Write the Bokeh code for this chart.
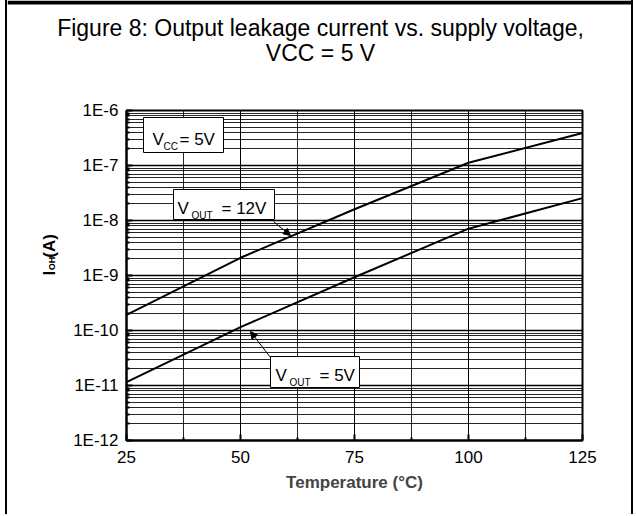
import math
from bokeh.plotting import figure
from bokeh.layouts import column, row
from bokeh.models import (Range1d, FixedTicker, CustomJSTickFormatter,
                          BoxAnnotation, Label, Arrow, NormalHead)
from bokeh.embed import file_html
from bokeh.resources import INLINE

# ---- data ----
temperature = [25, 50, 75, 100, 125]
i_oh_vout_12v = [1.93e-10, 2.1e-9, 1.6e-8, 1.12e-7, 3.9e-7]
i_oh_vout_5v = [1.15e-11, 1.15e-10, 9.3e-10, 7.1e-9, 2.55e-8]

x_ticks = [25, 50, 75, 100, 125]
x_minor_ticks = [37.5, 62.5, 87.5, 112.5]
y_decades = [-12, -11, -10, -9, -8, -7, -6]
y_ticks = [10.0 ** e for e in y_decades]
y_minor_ticks = [k * 10.0 ** e for e in y_decades[:-1] for k in range(2, 10)]

title_line1 = "Figure 8: Output leakage current vs. supply voltage,"
title_line2 = "VCC = 5 V"

FONT = "Liberation Sans"

# ---- layout (page pixels) ----
ORIGIN_X, ORIGIN_Y = 7, 0          # where the whole block starts
TOTAL_W = 624
TITLE_H = 90
MAIN_H = 424
YLAB_W = 57
MAIN_W = TOTAL_W - YLAB_W
FL, FR, FT, FB = 126, 582, 110, 440   # frame edges on the page
TOP_RULE = 4                           # thickness of the top page rule

MAIN_X0 = ORIGIN_X + YLAB_W
MAIN_Y0 = ORIGIN_Y + TITLE_H


def blank_fig(w, h):
    f = figure(width=w, height=h, output_backend="svg",
               toolbar_location=None, x_range=Range1d(0, w),
               y_range=Range1d(0, h), x_axis_location=None,
               y_axis_location=None, min_border=0)
    f.grid.visible = False
    f.outline_line_color = None
    f.background_fill_color = "white"
    f.border_fill_color = "white"
    return f


# ---------------- title strip ----------------
t = blank_fig(TOTAL_W, TITLE_H)
t.add_layout(BoxAnnotation(left=0, right=TOTAL_W, bottom=TITLE_H - TOP_RULE,
                           top=TITLE_H, fill_color="black", fill_alpha=1.0,
                           line_alpha=0))
for txt, py in ((title_line1, 27.5), (title_line2, 52.5)):
    t.add_layout(Label(x=320 - ORIGIN_X, y=(ORIGIN_Y + TITLE_H) - py,
                       text=txt, text_font=FONT, text_font_size="23px",
                       text_align="center", text_baseline="middle",
                       text_color="black"))

# ---------------- y label strip: "I_OH (A)" rotated ----------------
yl = blank_fig(YLAB_W, MAIN_H)
rot = math.pi / 2
ylab_pieces = [  # text, size, centre on the page (x, y)
    ("I", "17px", 49.0, 299.0),
    ("OH", "9px", 51.0, 286.5),
    ("(A)", "17px", 48.5, 264.0),
]
for txt, size, px, py in ylab_pieces:
    yl.add_layout(Label(x=px - ORIGIN_X, y=(MAIN_Y0 + MAIN_H) - py, text=txt,
                        angle=rot, text_font=FONT, text_font_style="bold",
                        text_font_size=size, text_baseline="middle",
                        text_align="center", text_color="black"))

# ---------------- main plot ----------------
p = figure(width=MAIN_W, height=MAIN_H, output_backend="svg",
           toolbar_location=None,
           x_range=Range1d(25, 125), y_range=Range1d(1e-12, 1e-6),
           y_axis_type="log",
           min_border_left=FL - MAIN_X0,
           min_border_right=ORIGIN_X + TOTAL_W - FR,
           min_border_top=FT - MAIN_Y0,
           min_border_bottom=MAIN_Y0 + MAIN_H - FB)
p.border_fill_color = "white"


# helpers mapping page pixels to the plot's data space (decorations only)
def cx(px):
    return 25 + (px - FL) * 100.0 / (FR - FL)


def cy(py):
    return 10.0 ** (-6 - (py - FT) * 6.0 / (FB - FT))


p.outline_line_color = "black"
p.outline_line_width = 2
p.background_fill_color = "white"

for ax in (p.xaxis[0], p.yaxis[0]):
    ax.axis_line_color = "black"
    ax.axis_line_width = 2
    ax.major_tick_in = 6
    ax.major_tick_out = 0
    ax.minor_tick_in = 3
    ax.minor_tick_out = 0
    ax.major_tick_line_color = "black"
    ax.minor_tick_line_color = "black"
    ax.major_tick_line_width = 2
    ax.minor_tick_line_width = 2
    ax.major_label_text_font = FONT
    ax.major_label_text_font_size = "17px"
    ax.major_label_text_color = "black"

p.xaxis.ticker = FixedTicker(ticks=x_ticks, minor_ticks=x_minor_ticks)
p.yaxis.ticker = FixedTicker(ticks=y_ticks, minor_ticks=y_minor_ticks)
p.yaxis.formatter = CustomJSTickFormatter(
    code="return '1E' + Math.round(Math.log10(tick));")
p.xaxis.major_label_standoff = 10
p.yaxis.major_label_standoff = 8

p.xaxis.axis_label = "Temperature (\u00b0C)"
p.xaxis.axis_label_text_font = FONT
p.xaxis.axis_label_text_font_style = "bold"
p.xaxis.axis_label_text_font_size = "17px"
p.xaxis.axis_label_standoff = 7

for g in (p.xgrid[0], p.ygrid[0]):
    g.grid_line_color = "black"
    g.grid_line_width = 1
    g.minor_grid_line_color = "black"
    g.minor_grid_line_width = 1
    g.minor_grid_line_alpha = 0.85
p.ygrid.grid_line_width = 1.5

p.line(temperature, i_oh_vout_12v, line_color="black", line_width=2)
p.line(temperature, i_oh_vout_5v, line_color="black", line_width=2)

box_style = dict(fill_color="white", fill_alpha=1.0, line_color="black",
                 line_width=1, line_alpha=1.0)
p.add_layout(BoxAnnotation(left=cx(143), right=cx(223), top=cy(117),
                           bottom=cy(152), **box_style))
p.add_layout(BoxAnnotation(left=cx(173), right=cx(274), top=cy(189),
                           bottom=cy(219), **box_style))
p.add_layout(BoxAnnotation(left=cx(270), right=cx(359), top=cy(356),
                           bottom=cy(387), **box_style))


def sub_label(x, y, main, sub, rest, sub_dx, rest_dx):
    common = dict(x=x, y=y, text_font=FONT, text_baseline="alphabetic",
                  text_align="left", text_color="black")
    p.add_layout(Label(text=main, text_font_size="17px", **common))
    p.add_layout(Label(text=sub, text_font_size="10px", x_offset=sub_dx,
                       y_offset=-7, **common))
    p.add_layout(Label(text=rest, text_font_size="17px", x_offset=rest_dx,
                       **common))


sub_label(cx(152), cy(139), "V", "CC", "= 5V", 11, 27)
sub_label(cx(177), cy(208), "V", "OUT", "= 12V", 14, 44)
sub_label(cx(275), cy(375), "V", "OUT", "= 5V", 14, 44)

head = dict(size=7, fill_color="black", line_color="black", line_width=1)
p.add_layout(Arrow(end=NormalHead(**head), x_start=cx(273), y_start=cy(221),
                   x_end=cx(290), y_end=cy(235), line_width=1,
                   line_color="black"))
p.add_layout(Arrow(end=NormalHead(**head), x_start=cx(270), y_start=cy(357),
                   x_end=cx(250), y_end=cy(331), line_width=1,
                   line_color="black"))

layout = column(t, row(yl, p, spacing=0), spacing=0)
layout.styles = {
    "transform": "translate(%dpx, %dpx)" % (ORIGIN_X, ORIGIN_Y),
    "box-shadow": "-2px 0 0 0 #000, 2px 0 0 0 #000",
}

open("out.html", "w").write(file_html(layout, INLINE))
